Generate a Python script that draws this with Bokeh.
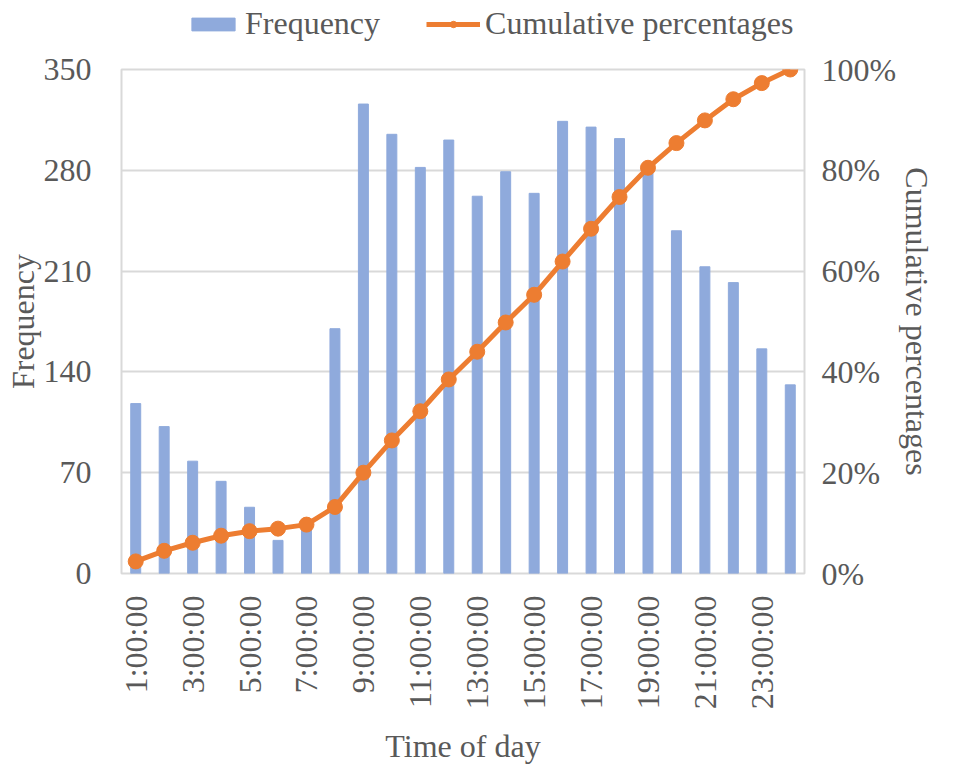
import math
from bokeh.plotting import figure
from bokeh.layouts import column
from bokeh.models import Range1d, LinearAxis, FixedTicker, Legend, LegendItem, CustomJSTickFormatter
from bokeh.embed import file_html
from bokeh.resources import INLINE

hours = list(range(1, 25))
time_labels = [f"{h}:00:00" for h in hours]
frequency = [118, 102, 78, 64, 46, 23, 33, 170, 326, 305, 282, 301,
             262, 279, 264, 314, 310, 302, 281, 238, 213, 202, 156, 131]
cumulative_pct = [2.4, 4.5, 6.1, 7.5, 8.4, 8.9, 9.7, 13.2, 20.0, 26.4, 32.2, 38.5,
                  44.0, 49.8, 55.3, 61.9, 68.4, 74.7, 80.5, 85.4, 89.9, 94.1, 97.3, 100.0]
y_ticks = [0, 70, 140, 210, 280, 350]
pct_ticks = [0, 20, 40, 60, 80, 100]
series_names = ["Frequency", "Cumulative percentages"]

FONT = "Liberation Serif"
TXT = "#595959"
GRID = "#D9D9D9"
BAR = "#8FAADC"
LINE = "#ED7D31"
FS = "32px"

# ---------- legend strip (same data, renderers hidden; only the legend shows) ----------
lg = figure(width=938, height=50, output_backend="svg", toolbar_location=None,
            x_range=Range1d(0.5, 24.5), y_range=Range1d(0, 350),
            min_border_left=0, min_border_right=0, min_border_top=0, min_border_bottom=0)
lg.axis.visible = False
lg.grid.visible = False
lg.outline_line_color = None
lb = lg.vbar(x=hours, top=frequency, width=0.35, color=BAR, visible=False)
ll = lg.line(x=hours, y=cumulative_pct, color=LINE, line_width=5, visible=False)
ld = lg.scatter(x=hours, y=cumulative_pct, size=15, color=LINE, visible=False)
legend = Legend(items=[LegendItem(label=series_names[0], renderers=[lb]),
                       LegendItem(label=series_names[1], renderers=[ll, ld])],
                orientation="horizontal", location=(65, 8))
legend.label_text_font = FONT
legend.label_text_font_size = FS
legend.label_text_color = TXT
legend.label_text_line_height = 1.0
legend.glyph_width = 54
legend.glyph_height = 16
legend.spacing = 46
legend.label_standoff = 5
legend.border_line_color = None
legend.background_fill_alpha = 0
legend.inactive_fill_alpha = 0
legend.padding = 2
legend.margin = 0
lg.add_layout(legend, "center")

# ---------- main chart ----------
p = figure(width=938, height=717, output_backend="svg", toolbar_location=None,
           x_range=Range1d(0.5, 24.5), y_range=Range1d(0, 350),
           min_border_left=121, min_border_right=134, min_border_top=19, min_border_bottom=190)
p.extra_y_ranges = {"pct": Range1d(0, 100)}

p.vbar(x=hours, top=frequency, width=0.35, color=BAR)
p.line(x=hours, y=cumulative_pct, y_range_name="pct", color=LINE, line_width=5)
p.scatter(x=hours, y=cumulative_pct, y_range_name="pct", size=15, color=LINE)

p.outline_line_color = GRID
p.outline_line_width = 2
p.xgrid.grid_line_color = None
p.ygrid.grid_line_color = GRID
p.ygrid.grid_line_width = 2
p.ygrid.ticker = FixedTicker(ticks=y_ticks)

xa = p.xaxis[0]
xa.ticker = FixedTicker(ticks=hours[::2])
xa.major_label_overrides = {h: lab for h, lab in zip(hours, time_labels)}
xa.major_label_orientation = math.pi / 2
xa.axis_label = "Time of day"
xa.axis_label_standoff = 16
xa.major_label_standoff = 16

ya = p.yaxis[0]
ya.ticker = FixedTicker(ticks=y_ticks)
ya.axis_label = series_names[0]
ya.axis_label_standoff = 0
ya.major_label_standoff = 24

ra = LinearAxis(y_range_name="pct", ticker=FixedTicker(ticks=pct_ticks),
                axis_label=series_names[1])
ra.formatter = CustomJSTickFormatter(code="return tick + '%';")
ra.axis_label_standoff = 0
ra.major_label_standoff = 11
p.add_layout(ra, "right")

for ax in [xa, ya, ra]:
    ax.axis_line_color = None
    ax.major_tick_line_color = None
    ax.minor_tick_line_color = None
    ax.major_label_text_font = FONT
    ax.major_label_text_font_size = FS
    ax.major_label_text_color = TXT
    ax.axis_label_text_font = FONT
    ax.axis_label_text_font_size = FS
    ax.axis_label_text_font_style = "normal"
    ax.axis_label_text_color = TXT
    ax.axis_label_text_line_height = 1.0
    ax.major_label_text_line_height = 1.0

layout = column(lg, p, spacing=0)
open("out.html", "w").write(file_html(layout, INLINE))
